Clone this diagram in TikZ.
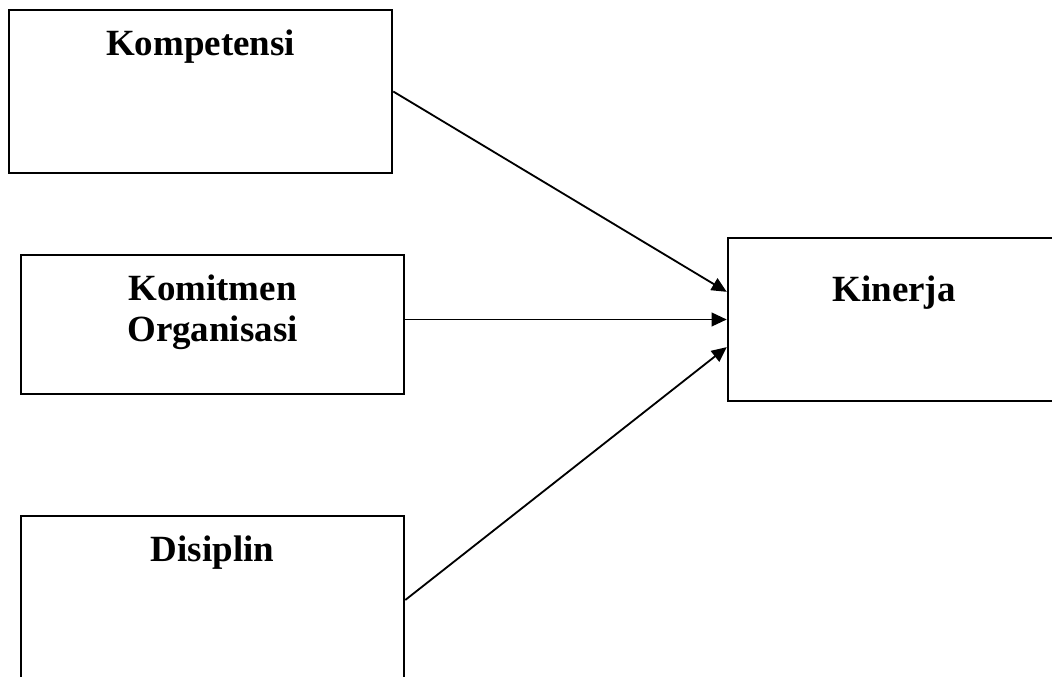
\documentclass[tikz,border=0pt]{standalone}
\usepackage{fontspec}
\setmainfont{Liberation Serif}
\usepackage{tikz}
\usetikzlibrary{arrows.meta, calc, positioning}

\tikzset{
	varbox/.style={draw, line width=1.8pt, rectangle, minimum width=9.575cm, inner sep=0pt},
	varlabel/.style={font=\fontsize{26.3}{29.5}\selectfont\bfseries, align=center, inner sep=0pt, anchor=base},
	pathline/.style={line width=1.3pt, -{Triangle[length=3.75mm, width=3.4mm]}}
}

\begin{document}
\begin{tikzpicture}
				\useasboundingbox (0,0) rectangle (26.3,-16.925);
				% independent variables
				\node[varbox, minimum height=4.075cm] (komp) at (5.0125,-2.2875) {};
				\node[varlabel] (kompL) at ($(komp.north)+(0,-1.175)$) {Kompetensi};
				\node[varbox, minimum height=3.475cm] (komit) at (5.3125,-8.1125) {};
				\node[varlabel] (komitL) at ($(komit.north)+(0,-2.2)$) {Komitmen\\Organisasi};
				\node[varbox, minimum height=4.2cm] (disp) at (5.3125,-15.0) {};
				\node[varlabel] (dispL) at ($(disp.north)+(0,-1.175)$) {Disiplin};
				% dependent variable
				\node[varbox, minimum width=8.3cm, minimum height=4.075cm] (kin) at (22.35,-7.9875) {};
				\node[varlabel] (kinL) at ($(kin.north)+(0,-1.625)$) {Kinerja};
				% paths
				\draw[pathline] (komp.east) -- ($(kin.north west)!0.333!(kin.south west)$);
				\draw[pathline] (komit.east |- kin.west) -- (kin.west);
				\draw[pathline] (disp.east) -- ($(kin.north west)!0.667!(kin.south west)$);
			\end{tikzpicture}
\end{document}
